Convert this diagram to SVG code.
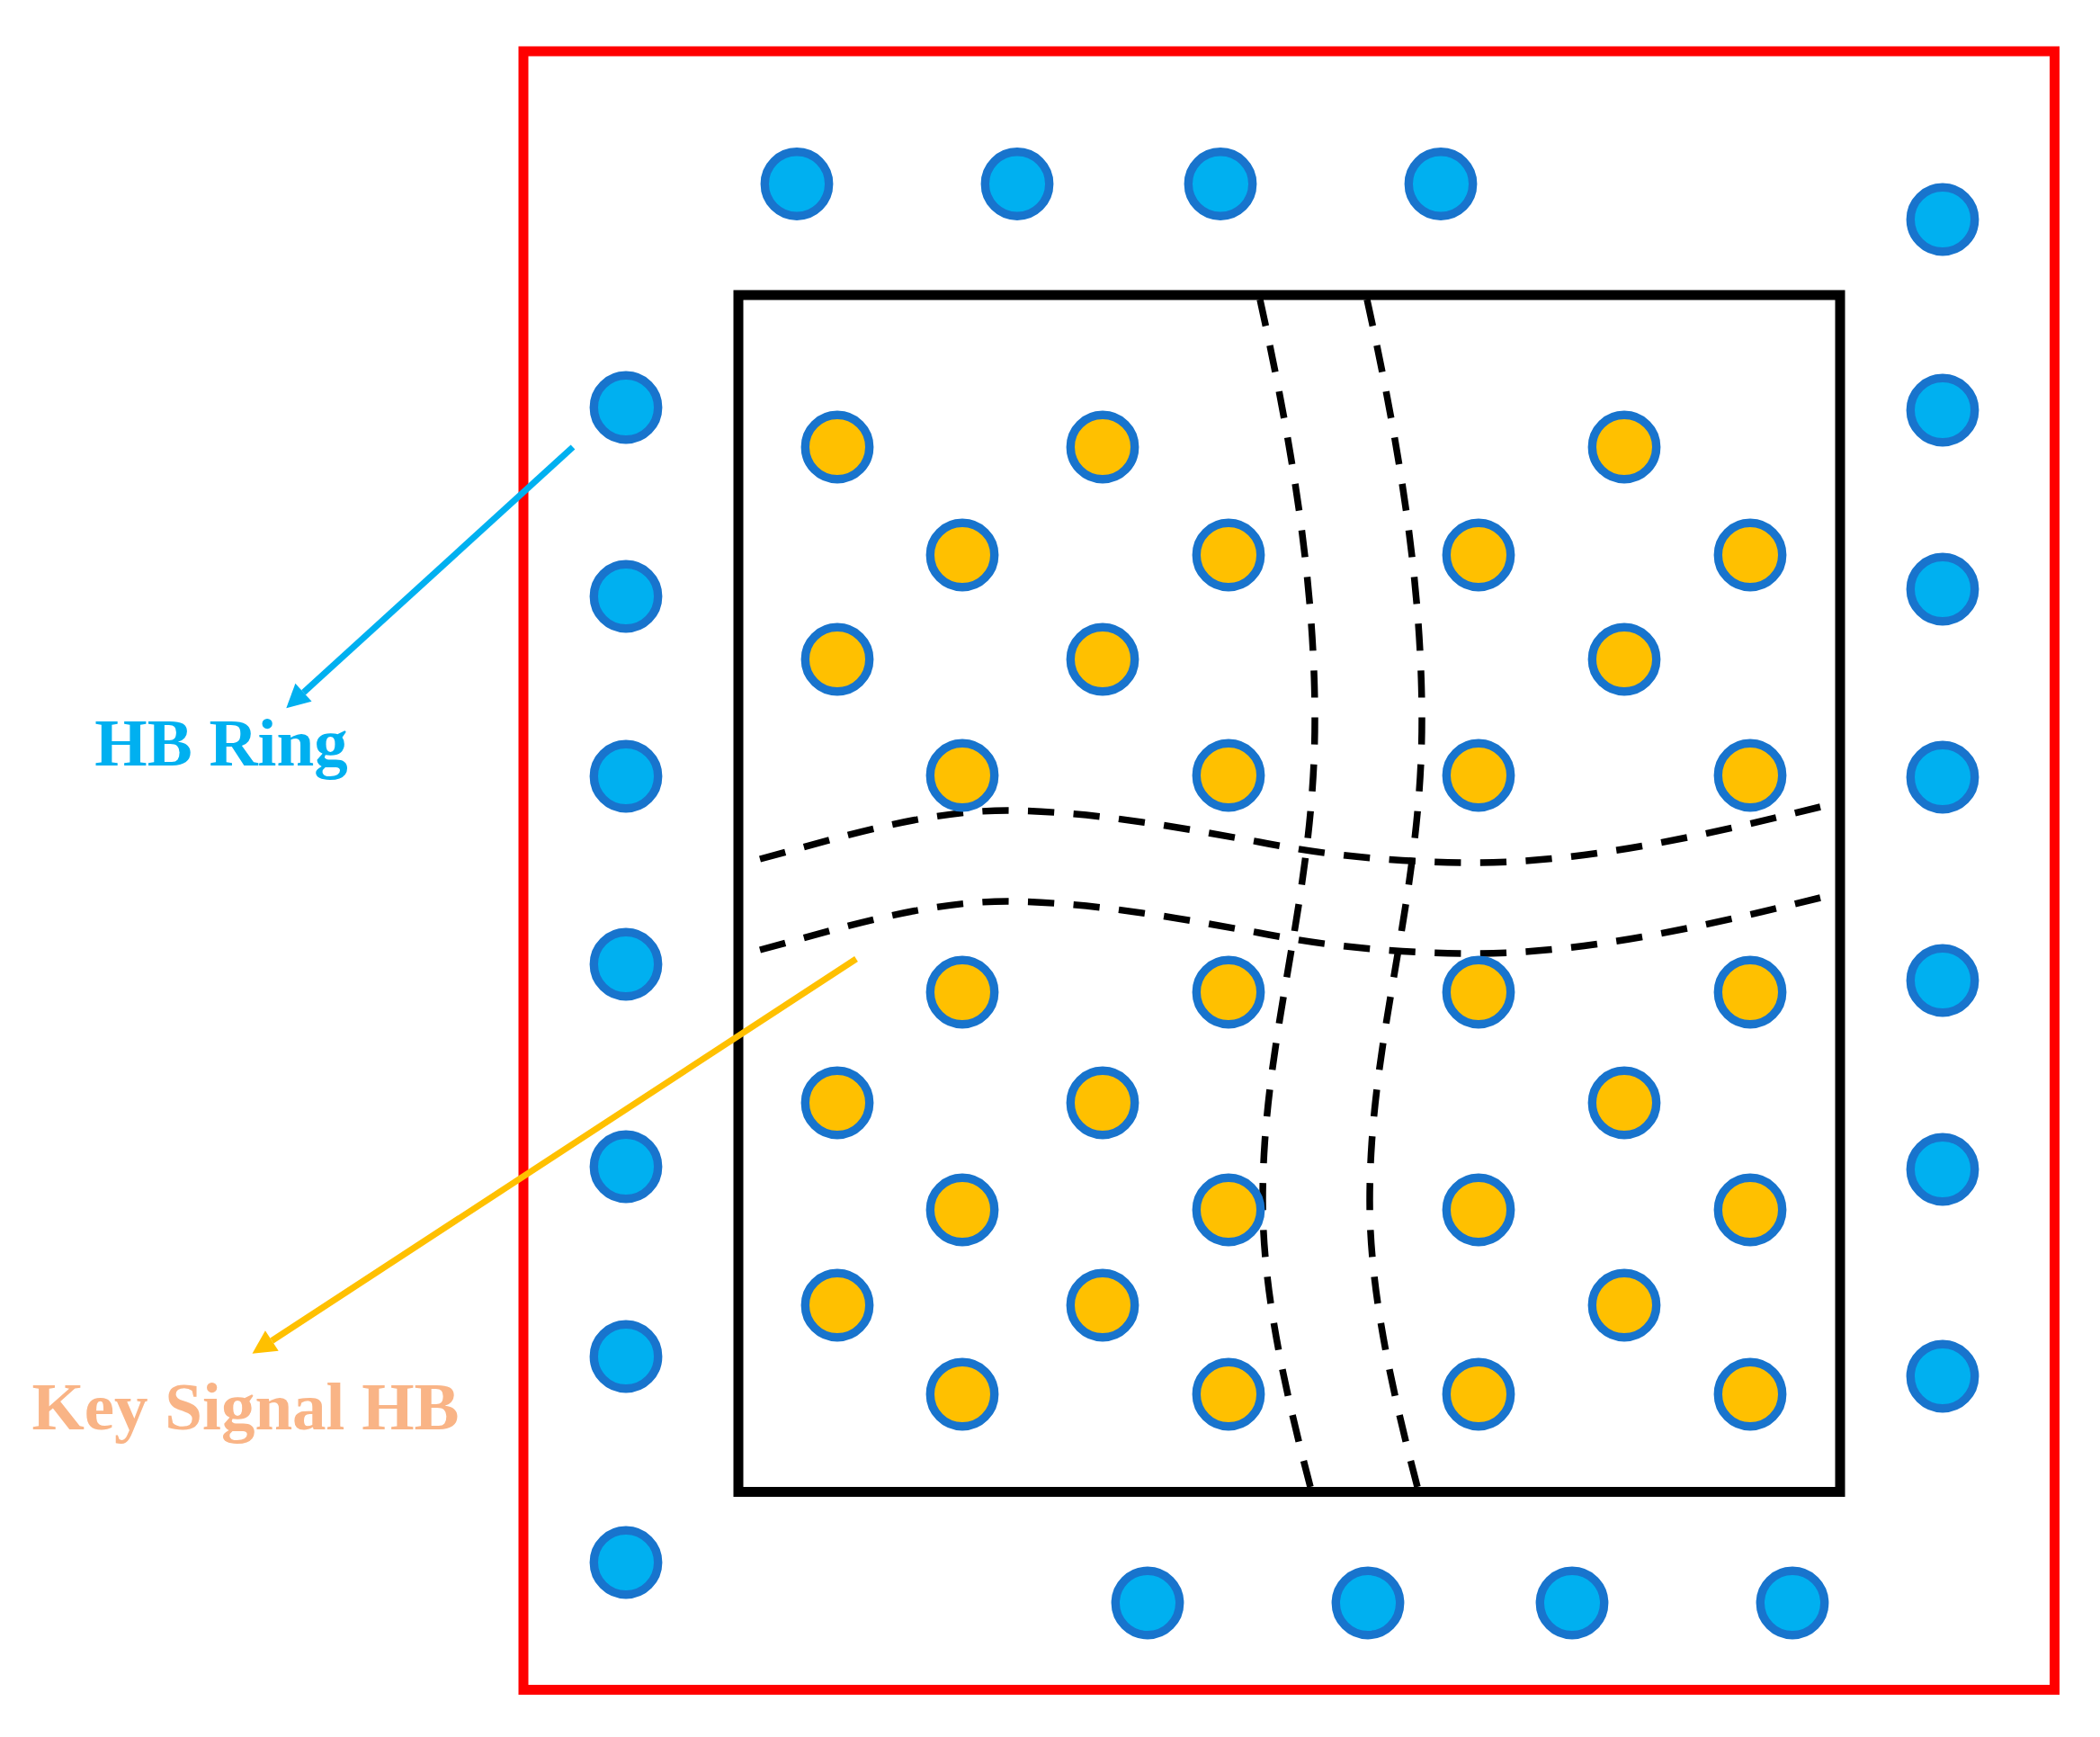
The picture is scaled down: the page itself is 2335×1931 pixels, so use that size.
<svg xmlns="http://www.w3.org/2000/svg" width="2335" height="1931" viewBox="0 0 2335 1931">
  <style>
    .ring { fill: #00B0F0; stroke: #1874CD; stroke-width: 9.4; }
    .key { fill: #FFC000; stroke: #1874CD; stroke-width: 9.4; }
    .dash { fill: none; stroke: #000000; stroke-width: 7.5; stroke-dasharray: 30 22; }
    .label { font-family: "Liberation Serif", "Times New Roman", serif; font-weight: bold; font-size: 75px; text-anchor: middle; }
  </style>
  <defs>
    <marker id="headBlue" markerUnits="userSpaceOnUse" markerWidth="27" markerHeight="27" refX="0" refY="13.5" orient="auto" overflow="visible">
      <path d="M0,0 L26,13.5 L0,27 Z" fill="#00B0F0"/>
    </marker>
    <marker id="headYellow" markerUnits="userSpaceOnUse" markerWidth="27" markerHeight="27" refX="0" refY="13.5" orient="auto" overflow="visible">
      <path d="M0,0 L26,13.5 L0,27 Z" fill="#FFC000"/>
    </marker>
  </defs>
  <rect width="2335" height="1931" fill="#FFFFFF"/>

  <g id="package">
    <rect x="582" y="57" width="1702.5" height="1821.5" fill="none" stroke="#FF0000" stroke-width="11"/>
  </g>
  <g id="die">
    <rect x="821" y="328" width="1225" height="1330.5" fill="none" stroke="#000000" stroke-width="11"/>
  </g>

  <g id="partition-lines">
    <path class="dash" pathLength="1226" d="M845,955 C937,930 1030,901 1120,901 C1213,902 1307,919 1400,936 C1480,952 1560,959 1640,959 C1768,959 1910,925 2024,897"/>
    <path class="dash" pathLength="1226" transform="translate(0,101)" d="M845,955 C937,930 1030,901 1120,901 C1213,902 1307,919 1400,936 C1480,952 1560,959 1640,959 C1768,959 1910,925 2024,897"/>
    <path class="dash" pathLength="1330" d="M1401,333 C1434.5,485 1462,643 1462,800 C1462,1000 1404,1150 1404,1335 C1404,1440 1431,1553 1457,1653"/>
    <path class="dash" pathLength="1330" transform="translate(119,0)" d="M1401,333 C1434.5,485 1462,643 1462,800 C1462,1000 1404,1150 1404,1335 C1404,1440 1431,1553 1457,1653"/>
  </g>

  <g id="hb-ring">
    <circle class="ring" cx="886" cy="204.5" r="35.7"/>
    <circle class="ring" cx="1131" cy="204.5" r="35.7"/>
    <circle class="ring" cx="1357" cy="204.5" r="35.7"/>
    <circle class="ring" cx="1602" cy="204.5" r="35.7"/>
    <circle class="ring" cx="2160" cy="244" r="35.7"/>
    <circle class="ring" cx="2160" cy="456" r="35.7"/>
    <circle class="ring" cx="2160" cy="655" r="35.7"/>
    <circle class="ring" cx="2160" cy="864" r="35.7"/>
    <circle class="ring" cx="2160" cy="1090" r="35.7"/>
    <circle class="ring" cx="2160" cy="1300" r="35.7"/>
    <circle class="ring" cx="2160" cy="1530" r="35.7"/>
    <circle class="ring" cx="696" cy="453" r="35.7"/>
    <circle class="ring" cx="696" cy="663" r="35.7"/>
    <circle class="ring" cx="696" cy="863" r="35.7"/>
    <circle class="ring" cx="696" cy="1072" r="35.7"/>
    <circle class="ring" cx="696" cy="1297" r="35.7"/>
    <circle class="ring" cx="696" cy="1508" r="35.7"/>
    <circle class="ring" cx="696" cy="1737" r="35.7"/>
    <circle class="ring" cx="1276" cy="1782" r="35.7"/>
    <circle class="ring" cx="1521" cy="1782" r="35.7"/>
    <circle class="ring" cx="1748" cy="1782" r="35.7"/>
    <circle class="ring" cx="1993" cy="1782" r="35.7"/>
  </g>

  <g id="key-signal-hb">
    <circle class="key" cx="931" cy="497" r="35.7"/>
    <circle class="key" cx="1226" cy="497" r="35.7"/>
    <circle class="key" cx="1806" cy="497" r="35.7"/>
    <circle class="key" cx="1070" cy="617" r="35.7"/>
    <circle class="key" cx="1366" cy="617" r="35.7"/>
    <circle class="key" cx="1644" cy="617" r="35.7"/>
    <circle class="key" cx="1946" cy="617" r="35.7"/>
    <circle class="key" cx="931" cy="733" r="35.7"/>
    <circle class="key" cx="1226" cy="733" r="35.7"/>
    <circle class="key" cx="1806" cy="733" r="35.7"/>
    <circle class="key" cx="1070" cy="862" r="35.7"/>
    <circle class="key" cx="1366" cy="862" r="35.7"/>
    <circle class="key" cx="1644" cy="862" r="35.7"/>
    <circle class="key" cx="1946" cy="862" r="35.7"/>
    <circle class="key" cx="1070" cy="1103" r="35.7"/>
    <circle class="key" cx="1366" cy="1103" r="35.7"/>
    <circle class="key" cx="1644" cy="1103" r="35.7"/>
    <circle class="key" cx="1946" cy="1103" r="35.7"/>
    <circle class="key" cx="931" cy="1226" r="35.7"/>
    <circle class="key" cx="1226" cy="1226" r="35.7"/>
    <circle class="key" cx="1806" cy="1226" r="35.7"/>
    <circle class="key" cx="1070" cy="1345" r="35.7"/>
    <circle class="key" cx="1366" cy="1345" r="35.7"/>
    <circle class="key" cx="1644" cy="1345" r="35.7"/>
    <circle class="key" cx="1946" cy="1345" r="35.7"/>
    <circle class="key" cx="931" cy="1451" r="35.7"/>
    <circle class="key" cx="1226" cy="1451" r="35.7"/>
    <circle class="key" cx="1806" cy="1451" r="35.7"/>
    <circle class="key" cx="1070" cy="1550" r="35.7"/>
    <circle class="key" cx="1366" cy="1550" r="35.7"/>
    <circle class="key" cx="1644" cy="1550" r="35.7"/>
    <circle class="key" cx="1946" cy="1550" r="35.7"/>
  </g>

  <g id="connectors">
    <line x1="637" y1="497" x2="337.5" y2="769.8" stroke="#00B0F0" stroke-width="7" marker-end="url(#headBlue)"/>
    <line x1="952" y1="1066" x2="302.3" y2="1490.5" stroke="#FFC000" stroke-width="7" marker-end="url(#headYellow)"/>
  </g>

  <g id="label-hb-ring">
    <text class="label" x="246" y="851" fill="#00B0F0">HB Ring</text>
  </g>
  <g id="label-key-signal-hb">
    <text class="label" x="273" y="1589" fill="#F9B486">Key Signal HB</text>
  </g>
</svg>
